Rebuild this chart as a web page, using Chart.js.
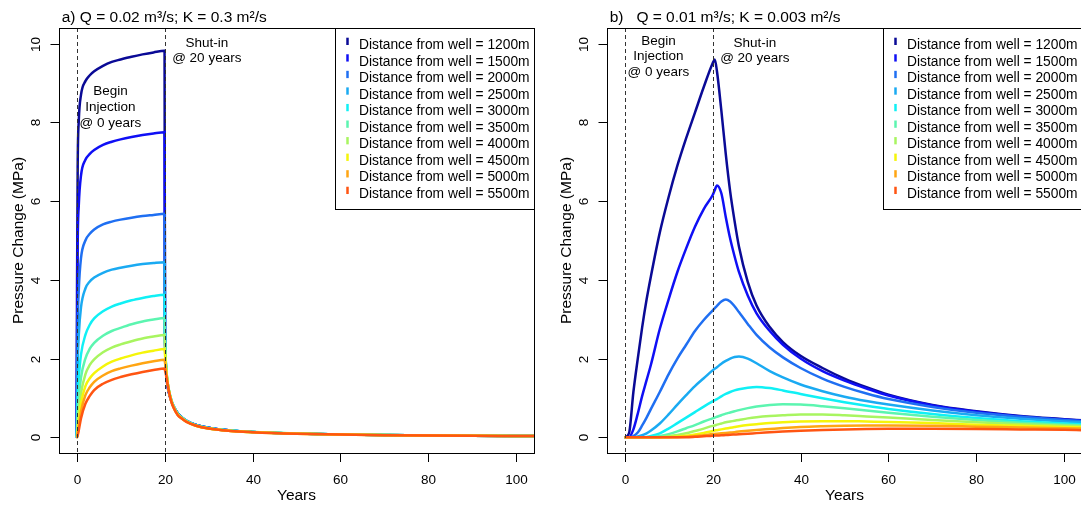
<!DOCTYPE html>
<html>
<head>
<meta charset="utf-8">
<script src="https://cdn.jsdelivr.net/npm/chart.js@4.4.1/dist/chart.umd.min.js"></script>
<style>
html, body { margin:0; padding:0; background:#fff; overflow:hidden; width:1081px; height:508px; }
canvas { position:absolute; top:0; }
#chartA { left:0; }
#chartB { left:548px; }
</style>
</head>
<body>
<canvas id="chartA" width="548" height="508"></canvas>
<canvas id="chartB" width="548" height="508"></canvas>
<script>
// legend entries and line colours (1200m -> 5500m)
const distances = ['1200m', '1500m', '2000m', '2500m', '3000m', '3500m', '4000m', '4500m', '5000m', '5500m'];
const lineColors = ['#0a0a96', '#0f0ff5', '#1f6ff2', '#1aaaf2', '#10f0f5', '#5cf5b0', '#a8f560', '#f5f50a', '#ffa512', '#ff5512'];
const xTicks = [0, 20, 40, 60, 80, 100];
const yTicks = [0, 2, 4, 6, 8, 10];

// panel a) Q = 0.02, K = 0.3  -- pressure change (MPa) vs years
const yearsA = [0, 0.1, 0.25, 0.5, 1, 2, 3, 4, 6, 8, 10, 12.5, 15, 17.5, 20,
  20.1, 20.3, 20.6, 21, 21.5, 22, 23, 24, 25, 27, 30, 35, 40, 50, 60, 70, 80, 90, 100, 104];
const a1200 = [0, 3.8, 6.9, 8.05, 8.7, 9.05, 9.2, 9.3, 9.44, 9.54, 9.6, 9.67, 9.73, 9.78, 9.82,
  2.6, 1.75, 1.35, 1.12, 0.93, 0.79, 0.61, 0.5, 0.42, 0.32, 0.24, 0.17, 0.135, 0.095, 0.072, 0.057, 0.047, 0.04, 0.034, 0.032];
const a1500 = [0, 2.2, 4.9, 5.9, 6.65, 7.05, 7.2, 7.3, 7.43, 7.51, 7.57, 7.63, 7.68, 7.72, 7.75,
  2.7, 1.8, 1.38, 1.14, 0.94, 0.8, 0.61, 0.5, 0.42, 0.32, 0.24, 0.17, 0.135, 0.095, 0.072, 0.057, 0.047, 0.04, 0.034, 0.032];
const a2000 = [0, 0.9, 2.8, 3.75, 4.55, 5.0, 5.17, 5.28, 5.41, 5.48, 5.53, 5.58, 5.62, 5.65, 5.68,
  2.75, 1.85, 1.42, 1.16, 0.95, 0.8, 0.61, 0.5, 0.42, 0.32, 0.24, 0.17, 0.135, 0.095, 0.072, 0.057, 0.047, 0.04, 0.034, 0.032];
const a2500 = [0, 0.45, 1.8, 2.6, 3.3, 3.78, 3.96, 4.06, 4.18, 4.26, 4.31, 4.36, 4.4, 4.43, 4.45,
  2.7, 1.88, 1.45, 1.18, 0.96, 0.8, 0.6, 0.5, 0.42, 0.32, 0.24, 0.17, 0.134, 0.094, 0.071, 0.056, 0.046, 0.039, 0.033, 0.031];
const a3000 = [0, 0.2, 0.95, 1.5, 2.1, 2.6, 2.86, 3.02, 3.2, 3.32, 3.4, 3.48, 3.54, 3.59, 3.62,
  2.6, 1.9, 1.47, 1.19, 0.96, 0.8, 0.6, 0.49, 0.41, 0.31, 0.23, 0.17, 0.133, 0.094, 0.07, 0.056, 0.046, 0.039, 0.033, 0.031];
const a3500 = [0, 0.08, 0.55, 1.0, 1.52, 2.0, 2.25, 2.4, 2.58, 2.7, 2.78, 2.87, 2.94, 2.99, 3.03,
  2.45, 1.88, 1.48, 1.19, 0.96, 0.79, 0.59, 0.49, 0.41, 0.31, 0.23, 0.165, 0.132, 0.093, 0.07, 0.055, 0.045, 0.038, 0.033, 0.03];
const a4000 = [0, 0.03, 0.3, 0.65, 1.12, 1.6, 1.84, 1.98, 2.16, 2.28, 2.36, 2.44, 2.51, 2.56, 2.6,
  2.3, 1.85, 1.48, 1.19, 0.95, 0.79, 0.58, 0.48, 0.4, 0.3, 0.23, 0.165, 0.131, 0.093, 0.07, 0.055, 0.045, 0.038, 0.032, 0.03];
const a4500 = [0, 0.01, 0.15, 0.42, 0.86, 1.3, 1.5, 1.63, 1.8, 1.92, 2.0, 2.08, 2.15, 2.2, 2.24,
  2.1, 1.8, 1.47, 1.18, 0.94, 0.78, 0.58, 0.48, 0.4, 0.3, 0.22, 0.162, 0.13, 0.092, 0.069, 0.055, 0.045, 0.038, 0.032, 0.03];
const a5000 = [0, 0, 0.08, 0.28, 0.65, 1.07, 1.27, 1.41, 1.57, 1.68, 1.75, 1.82, 1.88, 1.93, 1.97,
  1.9, 1.72, 1.45, 1.17, 0.93, 0.77, 0.57, 0.47, 0.39, 0.3, 0.22, 0.16, 0.13, 0.092, 0.069, 0.054, 0.044, 0.037, 0.032, 0.03];
const a5500 = [0, 0, 0.05, 0.18, 0.48, 0.85, 1.05, 1.2, 1.36, 1.46, 1.53, 1.6, 1.66, 1.71, 1.75,
  1.7, 1.6, 1.4, 1.15, 0.92, 0.76, 0.56, 0.47, 0.39, 0.3, 0.22, 0.16, 0.13, 0.092, 0.069, 0.054, 0.044, 0.037, 0.032, 0.03];

// panel b) Q = 0.01, K = 0.003
const yearsB = [0, 1, 2, 3, 4, 5, 6, 8, 10, 12, 14, 16, 18, 20, 20.5, 21, 22, 23, 24, 25, 26, 28,
  30, 33, 36, 40, 45, 50, 55, 60, 70, 80, 90, 100, 104];
const b1200 = [0, 0.1, 1.15, 2.0, 2.8, 3.5, 4.1, 5.2, 6.1, 6.9, 7.6, 8.25, 8.9, 9.5, 9.6, 9.3, 8.3, 7.2, 6.25, 5.5, 4.85, 3.95,
  3.35, 2.8, 2.42, 2.07, 1.76, 1.49, 1.27, 1.08, 0.82, 0.66, 0.54, 0.46, 0.43];
const b1500 = [0, 0, 0.2, 0.6, 1.05, 1.45, 1.85, 2.75, 3.5, 4.2, 4.8, 5.35, 5.8, 6.15, 6.28, 6.4, 6.2, 5.6, 5.05, 4.6, 4.2, 3.6,
  3.15, 2.7, 2.35, 2.0, 1.68, 1.44, 1.24, 1.06, 0.81, 0.65, 0.53, 0.45, 0.42];
const b2000 = [0, 0, 0.03, 0.12, 0.3, 0.5, 0.72, 1.15, 1.6, 2.0, 2.35, 2.7, 2.98, 3.22, 3.28, 3.34, 3.45, 3.5, 3.45, 3.33, 3.18, 2.88,
  2.6, 2.28, 2.03, 1.76, 1.49, 1.28, 1.11, 0.97, 0.77, 0.62, 0.52, 0.44, 0.41];
const b2500 = [0, 0, 0, 0.02, 0.05, 0.1, 0.17, 0.35, 0.58, 0.83, 1.07, 1.3, 1.5, 1.7, 1.74, 1.78, 1.87, 1.94, 2.0, 2.04, 2.05, 2.0,
  1.88, 1.68, 1.52, 1.34, 1.17, 1.03, 0.92, 0.83, 0.68, 0.56, 0.47, 0.4, 0.38];
const b3000 = [0, 0, 0, 0, 0, 0.01, 0.03, 0.1, 0.22, 0.36, 0.5, 0.64, 0.78, 0.91, 0.94, 0.97, 1.04, 1.1, 1.15, 1.19, 1.22, 1.26,
  1.28, 1.25, 1.19, 1.1, 0.99, 0.89, 0.8, 0.72, 0.59, 0.49, 0.41, 0.35, 0.33];
const b3500 = [0, 0, 0, 0, 0, 0, 0, 0.03, 0.08, 0.15, 0.23, 0.31, 0.4, 0.48, 0.5, 0.52, 0.56, 0.6, 0.63, 0.66, 0.69, 0.74,
  0.78, 0.82, 0.84, 0.83, 0.79, 0.74, 0.68, 0.62, 0.52, 0.44, 0.37, 0.32, 0.3];
const b4000 = [0, 0, 0, 0, 0, 0, 0, 0, 0.03, 0.06, 0.1, 0.16, 0.22, 0.29, 0.3, 0.32, 0.35, 0.38, 0.4, 0.42, 0.44, 0.48,
  0.51, 0.54, 0.56, 0.58, 0.58, 0.56, 0.53, 0.5, 0.44, 0.38, 0.33, 0.29, 0.28];
const b4500 = [0, 0, 0, 0, 0, 0, 0, 0, 0, 0.02, 0.04, 0.07, 0.11, 0.16, 0.17, 0.18, 0.2, 0.22, 0.24, 0.26, 0.28, 0.31,
  0.33, 0.36, 0.38, 0.4, 0.41, 0.41, 0.4, 0.39, 0.36, 0.32, 0.29, 0.26, 0.25];
const b5000 = [0, 0, 0, 0, 0, 0, 0, 0, 0, 0, 0.01, 0.03, 0.05, 0.08, 0.085, 0.09, 0.1, 0.11, 0.12, 0.13, 0.145, 0.165,
  0.185, 0.21, 0.235, 0.26, 0.28, 0.295, 0.3, 0.3, 0.29, 0.27, 0.25, 0.23, 0.22];
const b5500 = [0, 0, 0, 0, 0, 0, 0, 0, 0, 0, 0, 0.01, 0.025, 0.04, 0.042, 0.045, 0.05, 0.057, 0.063, 0.07, 0.077, 0.09,
  0.105, 0.125, 0.145, 0.165, 0.185, 0.2, 0.21, 0.215, 0.215, 0.21, 0.2, 0.19, 0.18];

const FONT = '"Liberation Sans", Arial, Helvetica, sans-serif';

// draws the R style frame, axes, dashed event lines, notes and legend
function rPlot(title, notes) {
  return {
    id: 'rplot',
    afterDatasetsDraw(chart) {
      const ctx = chart.ctx, ca = chart.chartArea;
      const xs = chart.scales.x, ys = chart.scales.y;
      ctx.save();

      // begin injection / shut-in lines
      ctx.strokeStyle = '#333';
      ctx.lineWidth = 1;
      ctx.setLineDash([4, 3]);
      [0, 20].forEach(v => {
        const px = Math.round(xs.getPixelForValue(v)) + 0.5;
        ctx.beginPath(); ctx.moveTo(px, ca.top); ctx.lineTo(px, ca.bottom); ctx.stroke();
      });
      ctx.setLineDash([]);

      // frame
      ctx.strokeStyle = '#000';
      ctx.strokeRect(ca.left + 0.5, ca.top + 0.5, ca.right - ca.left, ca.bottom - ca.top);

      ctx.fillStyle = '#000';
      ctx.font = '13.5px ' + FONT;
      ctx.textAlign = 'center';
      ctx.textBaseline = 'alphabetic';
      xTicks.forEach(v => {
        const px = Math.round(xs.getPixelForValue(v)) + 0.5;
        ctx.beginPath(); ctx.moveTo(px, ca.bottom); ctx.lineTo(px, ca.bottom + 9); ctx.stroke();
        ctx.fillText(String(v), px, ca.bottom + 30.5);
      });
      yTicks.forEach(v => {
        const py = Math.round(ys.getPixelForValue(v)) + 0.5;
        ctx.beginPath(); ctx.moveTo(ca.left - 8.5, py); ctx.lineTo(ca.left, py); ctx.stroke();
        ctx.save();
        ctx.translate(ca.left - 19, py);
        ctx.rotate(-Math.PI / 2);
        ctx.fillText(String(v), 0, 0);
        ctx.restore();
      });

      // axis titles and main title
      ctx.font = '15.5px ' + FONT;
      ctx.fillText('Years', (ca.left + ca.right) / 2, ca.bottom + 46.8);
      ctx.save();
      ctx.translate(ca.left - 35.8, (ca.top + ca.bottom) / 2);
      ctx.rotate(-Math.PI / 2);
      ctx.fillText('Pressure Change (MPa)', 0, 0);
      ctx.restore();
      ctx.textAlign = 'left';
      ctx.fillText(title, 61.7, 21.5);

      // notes, placed in data units
      ctx.font = '13.5px ' + FONT;
      ctx.textAlign = 'center';
      notes.forEach(n => ctx.fillText(n.text, xs.getPixelForValue(n.x), ys.getPixelForValue(n.y)));

      // legend box, top right of the frame
      const lx = 335, lb = 209;
      ctx.fillStyle = '#fff';
      ctx.fillRect(lx, ca.top, ca.right - lx, lb - ca.top);
      ctx.strokeStyle = '#000';
      ctx.strokeRect(lx + 0.5, ca.top + 0.5, ca.right - lx, lb - ca.top);
      ctx.font = '13.8px ' + FONT;
      ctx.textAlign = 'left';
      distances.forEach((d, i) => {
        const base = 49 + 16.56 * i;
        ctx.strokeStyle = lineColors[i];
        ctx.lineWidth = 2.5;
        ctx.beginPath(); ctx.moveTo(347.5, base - 11.3); ctx.lineTo(347.5, base - 4); ctx.stroke();
        ctx.fillStyle = '#000';
        ctx.fillText('Distance from well = ' + d, 359, base);
      });
      ctx.restore();
    }
  };
}

function makeChart(id, years, series, title, notes) {
  return new Chart(document.getElementById(id), {
    type: 'line',
    data: {
      datasets: series.map((vals, i) => ({
        label: 'Distance from well = ' + distances[i],
        data: vals.map((v, k) => ({ x: years[k], y: v })),
        borderColor: lineColors[i],
        borderWidth: 2.5,
        pointRadius: 0,
        fill: false,
        cubicInterpolationMode: 'monotone',
        order: series.length - 1 - i
      }))
    },
    options: {
      responsive: false,
      animation: false,
      devicePixelRatio: 1,
      layout: { padding: { left: 59, right: 14, top: 28, bottom: 55 } },
      plugins: { legend: { display: false }, tooltip: { enabled: false } },
      scales: {
        x: { type: 'linear', min: -4, max: 104, display: false },
        y: { type: 'linear', min: -0.4, max: 10.4, display: false }
      }
    },
    plugins: [rPlot(title, notes)]
  });
}

makeChart('chartA', yearsA,
  [a1200, a1500, a2000, a2500, a3000, a3500, a4000, a4500, a5000, a5500],
  'a) Q = 0.02 m\u00b3/s; K = 0.3 m\u00b2/s',
  [{ text: 'Begin', x: 7.7, y: 8.7 }, { text: 'Injection', x: 7.7, y: 8.3 }, { text: '@ 0 years', x: 7.7, y: 7.89 },
   { text: 'Shut-in', x: 29.6, y: 9.92 }, { text: '@ 20 years', x: 29.6, y: 9.53 }]);

makeChart('chartB', yearsB,
  [b1200, b1500, b2000, b2500, b3000, b3500, b4000, b4500, b5000, b5500],
  'b)   Q = 0.01 m\u00b3/s; K = 0.003 m\u00b2/s',
  [{ text: 'Begin', x: 7.7, y: 9.97 }, { text: 'Injection', x: 7.7, y: 9.59 }, { text: '@ 0 years', x: 7.7, y: 9.17 },
   { text: 'Shut-in', x: 29.6, y: 9.92 }, { text: '@ 20 years', x: 29.6, y: 9.53 }]);
</script>
</body>
</html>
